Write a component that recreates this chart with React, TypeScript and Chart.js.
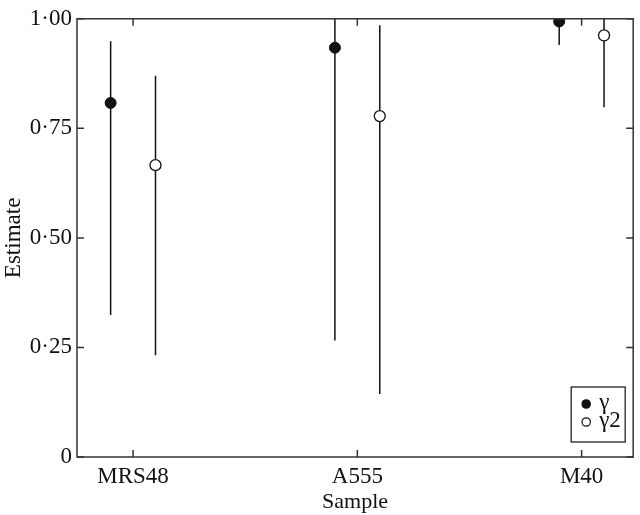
import React, { useEffect, useRef } from "react";
import { Chart, registerables } from "chart.js";

Chart.register(...registerables);

const categories = ["MRS48", "A555", "M40"];
const yTickValues = [0, 0.25, 0.5, 0.75, 1.0];
const yTickLabels = ["0", "0·25", "0·50", "0·75", "1·00"];

const gammaEst = [0.808, 0.934, 0.994];
const gammaLow = [0.324, 0.266, 0.94];
const gammaHigh = [0.949, 1.0, 1.0];

const gamma2Est = [0.666, 0.778, 0.962];
const gamma2Low = [0.232, 0.144, 0.798];
const gamma2High = [0.87, 0.985, 1.0];

const seriesLabels = ["γ", "γ2"];

const FONT = "'Liberation Serif', 'Times New Roman', serif";
const OFFSET = 0.1;

export default function App() {
  const ref = useRef<HTMLCanvasElement | null>(null);

  useEffect(() => {
    document.body.style.margin = "0";
    const canvas = ref.current;
    if (!canvas) return;

    const errorBars = [
      { low: gammaLow, high: gammaHigh, off: -OFFSET },
      { low: gamma2Low, high: gamma2High, off: OFFSET },
    ];

    const framePlugin = {
      id: "frame",
      beforeDatasetsDraw(chart: any) {
        const { ctx, chartArea: a, scales } = chart;
        const xs = scales.x;
        const ys = scales.y;
        ctx.save();
        ctx.beginPath();
        ctx.rect(a.left, a.top, a.right - a.left, a.bottom - a.top);
        ctx.clip();
        ctx.strokeStyle = "#111";
        ctx.lineWidth = 1.5;
        errorBars.forEach((eb) => {
          categories.forEach((_, i) => {
            const px = xs.getPixelForValue(i + 1 + eb.off);
            ctx.beginPath();
            ctx.moveTo(px, ys.getPixelForValue(eb.low[i]));
            ctx.lineTo(px, ys.getPixelForValue(eb.high[i]));
            ctx.stroke();
          });
        });
        ctx.restore();
      },
      afterDraw(chart: any) {
        const { ctx, chartArea: a, scales } = chart;
        const xs = scales.x;
        const ys = scales.y;
        const tl = 7;
        ctx.save();
        ctx.strokeStyle = "#333";
        ctx.lineWidth = 1.5;
        ctx.strokeRect(a.left, a.top, a.right - a.left, a.bottom - a.top);
        ctx.beginPath();
        categories.forEach((_, i) => {
          const px = xs.getPixelForValue(i + 1);
          ctx.moveTo(px, a.bottom);
          ctx.lineTo(px, a.bottom - tl);
          ctx.moveTo(px, a.top);
          ctx.lineTo(px, a.top + tl);
        });
        yTickValues.forEach((v) => {
          const py = ys.getPixelForValue(v);
          ctx.moveTo(a.left, py);
          ctx.lineTo(a.left + tl, py);
          ctx.moveTo(a.right, py);
          ctx.lineTo(a.right - tl, py);
        });
        ctx.stroke();

        // legend
        const bw = 54;
        const bh = 55;
        const bx = a.right - 8 - bw;
        const by = a.bottom - 15 - bh;
        ctx.lineWidth = 1.3;
        ctx.strokeStyle = "#222";
        ctx.fillStyle = "#fff";
        ctx.fillRect(bx, by, bw, bh);
        ctx.strokeRect(bx, by, bw, bh);
        const rows = [by + 17, by + 35];
        ctx.fillStyle = "#111";
        ctx.beginPath();
        ctx.arc(bx + 15, rows[0], 4.8, 0, Math.PI * 2);
        ctx.fill();
        ctx.beginPath();
        ctx.arc(bx + 15, rows[1], 4.2, 0, Math.PI * 2);
        ctx.lineWidth = 1.2;
        ctx.strokeStyle = "#111";
        ctx.stroke();
        ctx.font = `23px ${FONT}`;
        ctx.textBaseline = "middle";
        ctx.textAlign = "left";
        ctx.fillStyle = "#111";
        ctx.fillText(seriesLabels[0], bx + 28, rows[0] - 1);
        ctx.fillText(seriesLabels[1], bx + 28, rows[1] - 1);
        ctx.restore();
      },
    };

    const chart = new Chart(canvas, {
      type: "scatter",
      data: {
        datasets: [
          {
            label: seriesLabels[0],
            data: gammaEst.map((v, i) => ({ x: i + 1 - OFFSET, y: v })),
            pointRadius: 5.5,
            pointBackgroundColor: "#111",
            pointBorderColor: "#111",
            pointBorderWidth: 1,
          },
          {
            label: seriesLabels[1],
            data: gamma2Est.map((v, i) => ({ x: i + 1 + OFFSET, y: v })),
            pointRadius: 5.5,
            pointBackgroundColor: "#fff",
            pointBorderColor: "#111",
            pointBorderWidth: 1.3,
          },
        ],
      },
      options: {
        animation: false,
        responsive: false,
        devicePixelRatio: 1,
        layout: { padding: { top: 13, right: 4, left: 0, bottom: 0 } },
        plugins: {
          legend: { display: false },
          tooltip: { enabled: false },
        },
        scales: {
          x: {
            type: "linear",
            min: 0.75,
            max: 3.23,
            grid: { display: false, drawTicks: false },
            border: { display: false },
            afterBuildTicks: (s: any) => {
              s.ticks = categories.map((_, i) => ({ value: i + 1 }));
            },
            afterFit: (s: any) => {
              s.height = 58;
            },
            ticks: {
              padding: 6,
              color: "#111",
              font: { family: FONT, size: 23 },
              callback: (v: any) => categories[Math.round(v) - 1] ?? "",
              maxRotation: 0,
              autoSkip: false,
            },
            title: {
              display: true,
              text: "Sample",
              color: "#111",
              font: { family: FONT, size: 22 },
              padding: { top: 3, bottom: 0 },
            },
          },
          y: {
            min: 0,
            max: 1,
            grid: { display: false, drawTicks: false },
            border: { display: false },
            afterBuildTicks: (s: any) => {
              s.ticks = yTickValues.map((v) => ({ value: v }));
            },
            afterFit: (s: any) => {
              s.width = 77;
            },
            ticks: {
              padding: 5,
              color: "#111",
              font: { family: FONT, size: 23 },
              callback: (v: any) => {
                const idx = yTickValues.findIndex((t) => Math.abs(t - v) < 1e-6);
                return idx >= 0 ? yTickLabels[idx] : "";
              },
            },
            title: {
              display: true,
              text: "Estimate",
              color: "#111",
              font: { family: FONT, size: 23 },
              padding: { top: 0, bottom: 0 },
            },
          },
        },
      },
      plugins: [framePlugin],
    } as any);

    return () => chart.destroy();
  }, []);

  return (
    <div style={{ width: 640, height: 515, background: "#fff" }}>
      <canvas ref={ref} width={640} height={515} />
    </div>
  );
}
